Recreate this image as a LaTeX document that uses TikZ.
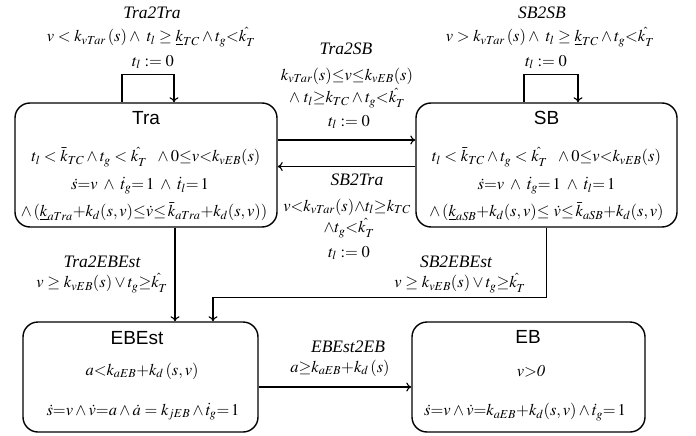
\documentclass[tikz,border=0pt]{standalone}
\usepackage{mathptmx}
\usepackage{fontspec}
\setmainfont{Liberation Serif}
\setsansfont{Liberation Sans}
\usetikzlibrary{arrows.meta}
\newcommand{\kh}{k_{T}^{\hat{}}}
\newcommand{\aand}{\;\wedge\;}
\begin{document}
\begin{tikzpicture}[x=1pt,y=-1pt,
  box/.style={draw, rounded corners=15pt, line width=1.4pt},
  conn/.style={draw, line width=1.1pt, -{To[length=5pt,width=9pt]}},
  ttl/.style={font=\sffamily\fontsize{19}{21}\selectfont, inner sep=0pt},
  mt/.style={font=\fontsize{16.5}{19}\selectfont, inner sep=0pt},
  lb/.style={font=\itshape\fontsize{17.5}{20}\selectfont, inner sep=0pt}]
\useasboundingbox (0,0) rectangle (696,436);
% boxes
\node[box, minimum width=262pt, minimum height=124pt] (tra) at (146,165) {};
\node[box, minimum width=261pt, minimum height=124pt] (sb) at (546.5,165) {};
\node[box, minimum width=235pt, minimum height=110pt] (ebest) at (140.5,377) {};
\node[box, minimum width=233pt, minimum height=110pt] (eb) at (528.5,377) {};
% Tra contents
\node[ttl] (traT) at (146,118) {Tra};
\node[mt] (tra1) at (146,157) {$t_l<\bar{k}_{TC}\wedge t_g<\kh\ \ \wedge 0{\leq}v{<}k_{vEB}(s)$};
\node[mt] (tra2) at (140,186) {$\dot{s}{=}v\aand \dot{t}_g{=}\,1\aand \dot{t}_l{=}\,1$};
\node[mt] (tra3) at (144,212) {$\wedge\,(\underline{k}_{aTra}{+}k_d(s,v){\leq}\dot{v}{\leq}\,\bar{k}_{aTra}{+}k_d(s,v))$};
% SB contents
\node[ttl] (sbT) at (546.5,118) {SB};
\node[mt] (sb1) at (546.5,157) {$t_l<\bar{k}_{TC}\wedge t_g<\kh\ \ \wedge 0{\leq}v{<}k_{vEB}(s)$};
\node[mt] (sb2) at (546.5,186) {$\dot{s}{=}v\aand \dot{t}_g{=}\,1\aand \dot{t}_l{=}\,1$};
\node[mt] (sb3) at (546.5,212) {$\wedge\,(\underline{k}_{aSB}{+}k_d(s,v){\leq}\ \dot{v}{\leq}\,\bar{k}_{aSB}{+}k_d(s,v)$};
% EBEst contents
\node[ttl] (ebestT) at (137,338) {EBEst};
\node[mt] (ebest1) at (142,371) {$a{<}k_{aEB}{+}k_d\,(s,v)$};
\node[mt] (ebest2) at (143,412) {$\dot{s}{=}v\wedge\dot{v}{=}a\wedge\dot{a}=k_{jEB}\wedge\dot{t}_g{=}\,1$};
% EB contents
\node[ttl] (ebT) at (528,337) {EB};
\node[mt] (eb1) at (531,371) {$v{>}\mathit{0}$};
\node[mt] (eb2) at (525,412) {$\dot{s}{=}v\wedge\dot{v}{=}k_{aEB}{+}k_d(s,v)\wedge\dot{t}_g{=}\,1$};
% connectors
\draw[conn] ([xshift=-24pt]tra.north) -- ++(0,-28) -| ([xshift=28pt]tra.north);
\draw[conn] ([xshift=-22.5pt]sb.north) -- ++(0,-28) -| ([xshift=31.5pt]sb.north);
\draw[conn] ([yshift=25pt]tra.east) -- ([yshift=25pt]tra.east -| sb.west);
\draw[conn] ([yshift=-1.5pt]sb.west) -- ([yshift=-1.5pt]sb.west -| tra.east);
\draw[conn] ([xshift=29pt]tra.south) -- ([xshift=29pt]tra.south |- ebest.north);
\draw[conn] (sb.south) -- ++(0,70) -| ([xshift=72.5pt]ebest.north);
\draw[conn] ([yshift=-10pt]ebest.east) -- ([yshift=-10pt]ebest.east -| eb.west);
% labels Tra2Tra
\node[lb] (l1a) at (152,13) {Tra2Tra};
\node[mt] (l1b) at (151,37) {$v<k_{vTar}\,(s)\wedge\ t_l\geq\underline{k}_{TC}\wedge t_g{<}\kh$};
\node[mt] (l1c) at (153,62) {$t_l:=0$};
% SB2SB
\node[lb] (l2a) at (542,13) {SB2SB};
\node[mt] (l2b) at (550,37) {$v>k_{vTar}\,(s)\wedge\ t_l\geq\underline{k}_{TC}\wedge t_g{<}\kh$};
\node[mt] (l2c) at (546,62) {$t_l:=0$};
% Tra2SB
\node[lb] (l3a) at (346,49) {Tra2SB};
\node[mt] (l3b) at (347,76) {$k_{vTar}(s){\leq}v{\leq}k_{vEB}(s)$};
\node[mt] (l3c) at (347,98) {$\wedge\ t_l{\geq}k_{TC}\wedge t_g{<}\kh$};
\node[mt] (l3d) at (349,122) {$t_l:=0$};
% SB2Tra
\node[lb] (l4a) at (357,180) {SB2Tra};
\node[mt] (l4b) at (347,207) {$v{<}k_{vTar}(s){\wedge}t_l{\geq}k_{TC}$};
\node[mt] (l4c) at (349,228) {${\wedge}t_g{<}\kh$};
\node[mt] (l4d) at (349,253) {$t_l:=0$};
% Tra2EBEst
\node[lb] (l5a) at (102,262) {Tra2EBEst};
\node[mt] (l5b) at (102,283) {$v\geq k_{vEB}(s)\vee t_g{\geq}\kh$};
% SB2EBEst
\node[lb] (l6a) at (456,262) {SB2EBEst};
\node[mt] (l6b) at (460,283) {$v\geq k_{vEB}(s)\vee t_g{\geq}\kh$};
% EBEst2EB
\node[lb] (l7a) at (348,347) {EBEst2EB};
\node[mt] (l7b) at (340,368) {$a{\geq}k_{aEB}{+}k_d\,(s)$};
\end{tikzpicture}
\end{document}
